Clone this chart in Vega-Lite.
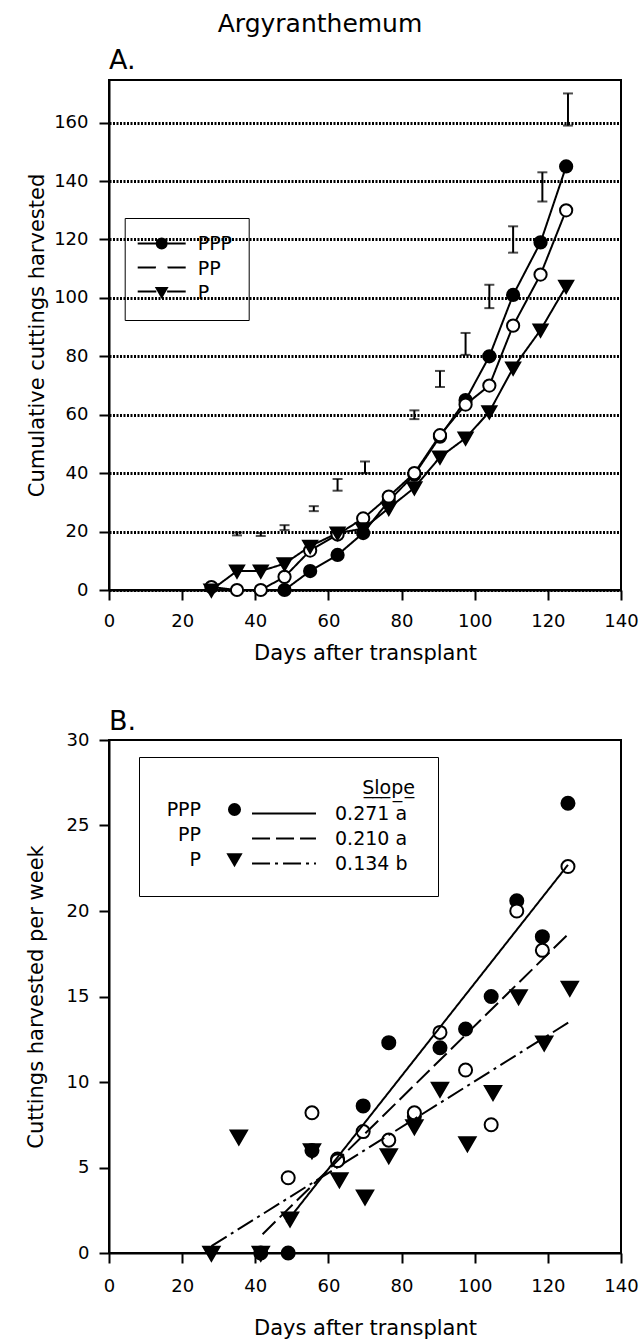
{
  "$schema": "https://vega.github.io/schema/vega-lite/v6.json",
  "padding": {"left": 24, "top": 12, "right": 5, "bottom": 5},
  "title": {"text": "Argyranthemum", "fontSize": 25, "anchor": "middle", "frame": "group", "offset": 9, "dx": -45},
  "spacing": 150,
  "bounds": "flush",
  "resolve": {
    "scale": {"shape": "independent", "fill": "independent", "strokeDash": "independent", "x": "independent", "y": "independent"},
    "legend": {"shape": "independent", "fill": "independent", "strokeDash": "independent"}
  },
  "datasets": {
    "cumA": [
      {"day": 48, "series": "PPP", "value": 0},
      {"day": 55, "series": "PPP", "value": 6.5},
      {"day": 62.5, "series": "PPP", "value": 12},
      {"day": 69.5, "series": "PPP", "value": 19.5},
      {"day": 76.5, "series": "PPP", "value": 30.5},
      {"day": 83.5, "series": "PPP", "value": 39.5},
      {"day": 90.5, "series": "PPP", "value": 52.5},
      {"day": 97.5, "series": "PPP", "value": 65},
      {"day": 104, "series": "PPP", "value": 80},
      {"day": 110.5, "series": "PPP", "value": 101},
      {"day": 118, "series": "PPP", "value": 119},
      {"day": 125, "series": "PPP", "value": 145},
      {"day": 28, "series": "PP", "value": 1},
      {"day": 35, "series": "PP", "value": 0},
      {"day": 41.5, "series": "PP", "value": 0},
      {"day": 48, "series": "PP", "value": 4.5},
      {"day": 55, "series": "PP", "value": 13.5},
      {"day": 62.5, "series": "PP", "value": 19},
      {"day": 69.5, "series": "PP", "value": 24.5},
      {"day": 76.5, "series": "PP", "value": 32},
      {"day": 83.5, "series": "PP", "value": 40},
      {"day": 90.5, "series": "PP", "value": 53},
      {"day": 97.5, "series": "PP", "value": 63.5},
      {"day": 104, "series": "PP", "value": 70},
      {"day": 110.5, "series": "PP", "value": 90.5},
      {"day": 118, "series": "PP", "value": 108},
      {"day": 125, "series": "PP", "value": 130},
      {"day": 28, "series": "P", "value": 0},
      {"day": 35, "series": "P", "value": 6.5},
      {"day": 41.5, "series": "P", "value": 6.5},
      {"day": 48, "series": "P", "value": 9},
      {"day": 55, "series": "P", "value": 15},
      {"day": 62.5, "series": "P", "value": 19.5},
      {"day": 69.5, "series": "P", "value": 21},
      {"day": 76.5, "series": "P", "value": 28},
      {"day": 83.5, "series": "P", "value": 35},
      {"day": 90.5, "series": "P", "value": 45.5},
      {"day": 97.5, "series": "P", "value": 52},
      {"day": 104, "series": "P", "value": 61},
      {"day": 110.5, "series": "P", "value": 76},
      {"day": 118, "series": "P", "value": 89},
      {"day": 125, "series": "P", "value": 104}
    ],
    "errA": [
      {"day": 35, "lo": 18.7, "hi": 19.7},
      {"day": 41.5, "lo": 18.5, "hi": 19.5},
      {"day": 48, "lo": 20.5, "hi": 22.2},
      {"day": 56, "lo": 27, "hi": 28.7},
      {"day": 62.5, "lo": 34, "hi": 38},
      {"day": 70, "lo": 40, "hi": 44},
      {"day": 83.5, "lo": 58.5, "hi": 61.5},
      {"day": 90.5, "lo": 69.5, "hi": 75},
      {"day": 97.5, "lo": 80.5, "hi": 88},
      {"day": 104, "lo": 96.5, "hi": 104.5},
      {"day": 110.5, "lo": 115.5, "hi": 124.5},
      {"day": 118.5, "lo": 133, "hi": 143},
      {"day": 125.5, "lo": 159, "hi": 170}
    ],
    "weekB": [
      {"day": 41.5, "series": "PPP", "value": 0},
      {"day": 49, "series": "PPP", "value": 0},
      {"day": 55.5, "series": "PPP", "value": 6.0},
      {"day": 62.5, "series": "PPP", "value": 5.5},
      {"day": 69.5, "series": "PPP", "value": 8.6},
      {"day": 76.5, "series": "PPP", "value": 12.3},
      {"day": 83.5, "series": "PPP", "value": 8.0},
      {"day": 90.5, "series": "PPP", "value": 12.0},
      {"day": 97.5, "series": "PPP", "value": 13.1},
      {"day": 104.5, "series": "PPP", "value": 15.0},
      {"day": 111.5, "series": "PPP", "value": 20.6},
      {"day": 118.5, "series": "PPP", "value": 18.5},
      {"day": 125.5, "series": "PPP", "value": 26.3},
      {"day": 49, "series": "PP", "value": 4.4},
      {"day": 55.5, "series": "PP", "value": 8.2},
      {"day": 62.5, "series": "PP", "value": 5.4},
      {"day": 69.5, "series": "PP", "value": 7.1},
      {"day": 76.5, "series": "PP", "value": 6.6},
      {"day": 83.5, "series": "PP", "value": 8.2},
      {"day": 90.5, "series": "PP", "value": 12.9},
      {"day": 97.5, "series": "PP", "value": 10.7},
      {"day": 104.5, "series": "PP", "value": 7.5},
      {"day": 111.5, "series": "PP", "value": 20.0},
      {"day": 118.5, "series": "PP", "value": 17.7},
      {"day": 125.5, "series": "PP", "value": 22.6},
      {"day": 28, "series": "P", "value": 0},
      {"day": 35.5, "series": "P", "value": 6.8},
      {"day": 41.5, "series": "P", "value": 0},
      {"day": 49.5, "series": "P", "value": 2.0},
      {"day": 55.5, "series": "P", "value": 6.0},
      {"day": 63, "series": "P", "value": 4.3},
      {"day": 70, "series": "P", "value": 3.3},
      {"day": 76.5, "series": "P", "value": 5.7},
      {"day": 83.5, "series": "P", "value": 7.4},
      {"day": 90.5, "series": "P", "value": 9.6},
      {"day": 98, "series": "P", "value": 6.4},
      {"day": 105, "series": "P", "value": 9.4},
      {"day": 112, "series": "P", "value": 15.0},
      {"day": 119, "series": "P", "value": 12.3},
      {"day": 126, "series": "P", "value": 15.5}
    ],
    "fitB": [
      {"series": "PPP", "fit": "0.271 a", "day": 48.5, "value": 1.8},
      {"series": "PPP", "fit": "0.271 a", "day": 125.5, "value": 22.7},
      {"series": "PP", "fit": "0.210 a", "day": 42, "value": 1.1},
      {"series": "PP", "fit": "0.210 a", "day": 125.8, "value": 18.7},
      {"series": "P", "fit": "0.134 b", "day": 28, "value": 0.4},
      {"series": "P", "fit": "0.134 b", "day": 125.8, "value": 13.5}
    ]
  },
  "vconcat": [
    {
      "width": 512,
      "height": 510,
      "title": {"text": "A.", "anchor": "start", "frame": "group", "fontSize": 27, "offset": 5},
      "encoding": {
        "x": {"type": "quantitative", "scale": {"domain": [0, 140], "nice": false},
              "axis": {"values": [0, 20, 40, 60, 80, 100, 120, 140], "title": "Days after transplant", "labelPadding": 12, "titlePadding": 12, "labelFlush": false}},
        "y": {"type": "quantitative", "scale": {"domain": [0, 174.6], "nice": false},
              "axis": {"values": [0, 20, 40, 60, 80, 100, 120, 140, 160], "title": "Cumulative cuttings harvested", "grid": true, "gridColor": "black", "gridDash": [2, 1.5], "gridWidth": 3, "labelPadding": 11, "titlePadding": 6}}
      },
      "layer": [
        {
          "data": {"name": "cumA"},
          "mark": {"type": "line", "color": "black", "strokeWidth": 2},
          "encoding": {
            "x": {"field": "day"},
            "y": {"field": "value"},
            "strokeDash": {"field": "series", "type": "nominal", "sort": ["PPP", "PP", "P"],
                           "scale": {"range": [[1, 0], [1, 0], [1, 0]]},
                           "legend": {"orient": "none", "legendX": 15.7, "legendY": 138, "title": null, "padding": 16,
                                      "labelFontSize": 19, "labelOpacity": 0, "labelExpr": "datum.label + '\u00a0\u00a0'",
                                      "symbolType": "M-4,0H-0.9M0.9,0H4", "symbolSize": 144, "symbolStrokeWidth": 2, "symbolStrokeColor": "black", "symbolFillColor": "transparent",
                                      "symbolOffset": 11.5, "labelOffset": 26.5, "rowPadding": 4}}
          }
        },
        {
          "data": {"name": "errA"},
          "mark": {"type": "errorbar", "color": "black", "thickness": 2, "size": 10, "ticks": true},
          "encoding": {
            "x": {"field": "day"},
            "y": {"field": "lo"},
            "y2": {"field": "hi"}
          }
        },
        {
          "data": {"name": "cumA"},
          "mark": {"type": "point", "filled": true, "size": 150, "stroke": "black", "strokeWidth": 2, "opacity": 1},
          "encoding": {
            "x": {"field": "day"},
            "y": {"field": "value"},
            "shape": {"field": "series", "type": "nominal",
                      "scale": {"domain": ["PPP", "PP", "P"], "range": ["circle", "circle", "M-1.15,-0.9L1.15,-0.9L0,1.1Z"]},
                      "legend": {"orient": "none", "legendX": 15.7, "legendY": 138, "title": null, "padding": 16, "strokeColor": "black",
                                 "labelFontSize": 19, "labelExpr": "datum.label + '\u00a0\u00a0'", "symbolSize": 144, "symbolStrokeWidth": 2, "symbolStrokeColor": "black",
                                 "symbolOffset": 11.5, "labelOffset": 26.5, "rowPadding": 4,
                                 "encode": {"symbols": {"stroke": {"value": "black"}}}}},
            "fill": {"field": "series", "type": "nominal",
                     "scale": {"domain": ["PPP", "PP", "P"], "range": ["black", "white", "black"]},
                     "legend": {"orient": "none", "legendX": 15.7, "legendY": 138, "title": null, "padding": 16, "strokeColor": "black",
                                "labelFontSize": 19, "labelExpr": "datum.label + '\u00a0\u00a0'", "symbolSize": 144, "symbolStrokeWidth": 2, "symbolStrokeColor": "black",
                                "symbolOffset": 11.5, "labelOffset": 26.5, "rowPadding": 4,
                                "encode": {"symbols": {"stroke": {"value": "black"}}}}}
          }
        }
      ]
    },
    {
      "width": 512,
      "height": 513,
      "title": {"text": "B.", "anchor": "start", "frame": "group", "fontSize": 27, "offset": -5},
      "encoding": {
        "x": {"type": "quantitative", "scale": {"domain": [0, 140], "nice": false},
              "axis": {"values": [0, 20, 40, 60, 80, 100, 120, 140], "title": "Days after transplant", "labelPadding": 14, "titlePadding": 22, "labelFlush": false}},
        "y": {"type": "quantitative", "scale": {"domain": [0, 30], "nice": false},
              "axis": {"values": [0, 5, 10, 15, 20, 25, 30], "title": "Cuttings harvested per week", "labelPadding": 10, "titlePadding": 20}}
      },
      "layer": [
        {
          "data": {"name": "weekB"},
          "mark": {"type": "point", "filled": true, "size": 170, "stroke": "black", "strokeWidth": 2, "opacity": 1},
          "encoding": {
            "x": {"field": "day"},
            "y": {"field": "value"},
            "shape": {"field": "series", "type": "nominal",
                      "scale": {"domain": ["PPP", "PP", "P"], "range": ["circle", "circle", "M-1.25,-0.95L1.25,-0.95L0,1.2Z"]},
                      "legend": {"orient": "none", "legendX": 91, "legendY": 60, "title": null, "padding": 0,
                                 "labelFontSize": 19, "labelAlign": "right", "labelOffset": -43, "symbolOffset": 25, "symbolSize": 170, "symbolStrokeWidth": 2, "symbolStrokeColor": "black", "rowPadding": 2.5,
                                 "encode": {"symbols": {"stroke": {"value": "black"}}}}},
            "fill": {"field": "series", "type": "nominal",
                     "scale": {"domain": ["PPP", "PP", "P"], "range": ["black", "white", "black"]},
                     "legend": {"orient": "none", "legendX": 91, "legendY": 60, "title": null, "padding": 0,
                                "labelFontSize": 19, "labelAlign": "right", "labelOffset": -43, "symbolOffset": 25, "symbolSize": 170, "symbolStrokeWidth": 2, "symbolStrokeColor": "black", "rowPadding": 2.5,
                                "encode": {"symbols": {"stroke": {"value": "black"}}}}}
          }
        },
        {
          "data": {"name": "fitB"},
          "mark": {"type": "line", "color": "black", "strokeWidth": 2},
          "encoding": {
            "x": {"field": "day"},
            "y": {"field": "value"},
            "strokeDash": {"field": "fit", "type": "nominal",
                           "scale": {"domain": ["0.271 a", "0.210 a", "0.134 b"], "range": [[1, 0], [18, 6], [18, 5, 3, 5]]},
                           "legend": {"orient": "none", "legendX": 30, "legendY": 17,
                                      "title": "S\u0332l\u0332o\u0332p\u0332e\u0332\u00a0\u00a0",
                                      "titleAnchor": "end", "titleAlign": "right", "titleFontSize": 19, "titleFontWeight": "normal", "titlePadding": 6,
                                      "padding": 22, "strokeColor": "black", "labelFontSize": 19,
                                      "symbolType": "M-5.33,0H5.33M21.2,0", "symbolSize": 144, "symbolStrokeWidth": 2, "symbolStrokeColor": "black", "symbolFillColor": "transparent",
                                      "symbolOffset": 113.5, "labelOffset": 41.5, "rowPadding": 5}}
          }
        }
      ]
    }
  ],
  "config": {
    "font": "DejaVu Sans",
    "view": {"stroke": "black", "strokeWidth": 2},
    "axis": {"domainColor": "black", "domainWidth": 2, "tickColor": "black", "tickWidth": 2, "tickSize": 10,
             "labelFont": "DejaVu Sans", "labelFontSize": 18, "labelColor": "black",
             "titleFont": "DejaVu Sans", "titleFontSize": 21, "titleFontWeight": "normal", "titleColor": "black", "grid": false},
    "legend": {"labelFont": "DejaVu Sans", "labelColor": "black", "titleFont": "DejaVu Sans", "titleColor": "black"},
    "title": {"font": "DejaVu Sans", "fontWeight": "normal", "color": "black"}
  }
}
